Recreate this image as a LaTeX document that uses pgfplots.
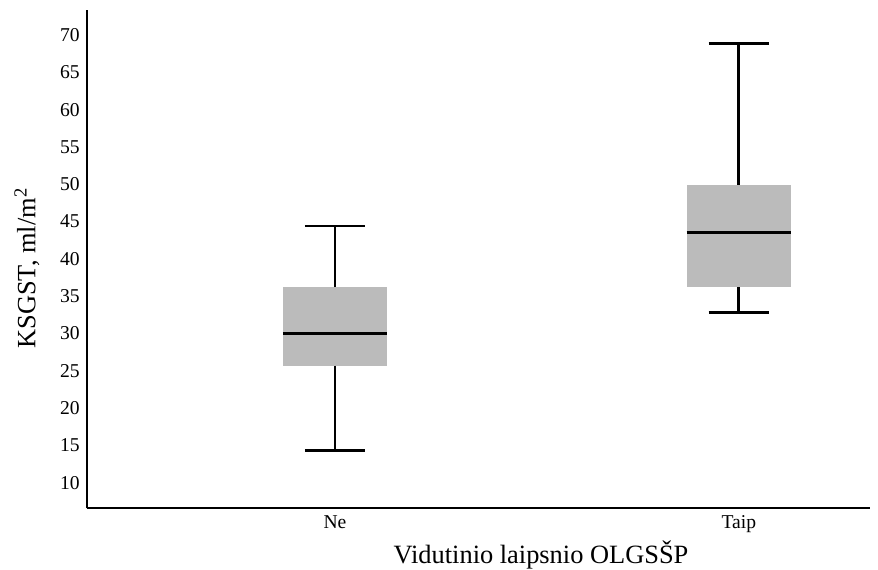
\documentclass[border=0pt]{standalone}
\usepackage{fontspec}
\setmainfont{Liberation Serif}
\usepackage{pgfplots}
\pgfplotsset{compat=1.18}
\definecolor{boxgray}{HTML}{BBBBBB}
\begin{document}
\begin{tikzpicture}
\begin{axis}[
  at={(0,0)}, anchor=south west,
  scale only axis,
  width=391.65pt, height=249.15pt,
  xmin=0.385, xmax=2.325,
  ymin=6.57, ymax=73.35,
  axis x line*=bottom, axis y line*=left,
  axis line style={-, line width=1.1pt, black},
  xtick={1,2}, xticklabels={Ne,Taip},
  ytick={10,15,...,70},
  major tick length=0pt,
  tick label style={font=\fontsize{9.8}{11}\selectfont},
  /pgf/number format/assume math mode=true,
  xlabel={Vidutinio laipsnio OLGSŠP},
  ylabel={KSGST, ml/m\textsuperscript{2}},
  label style={font=\fontsize{13.2}{15}\selectfont},
  xlabel style={at={(axis description cs:0.58,0)}, anchor=base, yshift=-27.5pt},
  ylabel style={at={(axis description cs:0,0.482)}, anchor=center, yshift=29.85pt},
]
% Ne: lower whisker 14.3, Q1 25.7, median 30.0, Q3 36.2, upper whisker 44.4
\addplot[draw=none, fill=boxgray] coordinates {(0.871,25.7) (1.129,25.7) (1.129,36.2) (0.871,36.2)} -- cycle;
\addplot[black, line width=1.35pt] coordinates {(1,36.2) (1,44.4)};
\addplot[black, line width=1.35pt] coordinates {(1,25.7) (1,14.3)};
\addplot[black, line width=1.35pt] coordinates {(0.9255,44.4) (1.0745,44.4)};
\addplot[black, line width=1.35pt] coordinates {(0.9255,14.3) (1.0745,14.3)};
\addplot[black, line width=1.35pt] coordinates {(0.871,30.0) (1.129,30.0)};
% Taip: lower whisker 32.8, Q1 36.2, median 43.5, Q3 49.9, upper whisker 68.9
\addplot[draw=none, fill=boxgray] coordinates {(1.871,36.2) (2.129,36.2) (2.129,49.9) (1.871,49.9)} -- cycle;
\addplot[black, line width=1.35pt] coordinates {(2,49.9) (2,68.9)};
\addplot[black, line width=1.35pt] coordinates {(2,36.2) (2,32.8)};
\addplot[black, line width=1.35pt] coordinates {(1.9255,68.9) (2.0745,68.9)};
\addplot[black, line width=1.35pt] coordinates {(1.9255,32.8) (2.0745,32.8)};
\addplot[black, line width=1.35pt] coordinates {(1.871,43.5) (2.129,43.5)};
\end{axis}
\pgfresetboundingbox
\path[use as bounding box] (-43.35pt,-30.35pt) rectangle (395.65pt,254.15pt);
\end{tikzpicture}
\end{document}
